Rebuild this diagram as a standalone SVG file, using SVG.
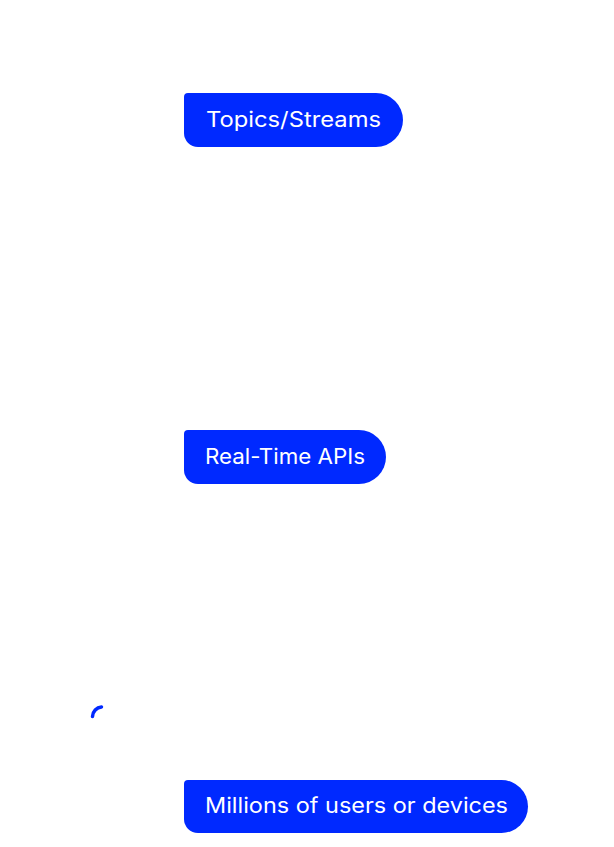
<svg xmlns="http://www.w3.org/2000/svg" width="614" height="847" viewBox="0 0 614 847">
<style>
.box{fill:#0029FF}
.lbl{fill:#ffffff;font-family:Inter,"Liberation Sans",sans-serif;font-size:21px}
.conn{fill:none;stroke:#0029FF;stroke-width:3.5;stroke-linecap:round}
</style>
<rect width="614" height="847" fill="#ffffff"/>
<g id="connectors">
<path class="conn" d="M92.5,716.5 A10,10 0 0 1 101.5,707"/>
</g>
<g id="topics">
<path class="box" d="M188,93 H376 A27,27 0 0 1 403,120 A27,27 0 0 1 376,147 H198 A14,14 0 0 1 184,133 V97 A4,4 0 0 1 188,93 Z"/>
<text class="lbl" x="206" y="127" textLength="175" lengthAdjust="spacingAndGlyphs">Topics/Streams</text>
</g>
<g id="apis">
<path class="box" d="M188,430 H359 A27,27 0 0 1 386,457 A27,27 0 0 1 359,484 H198 A14,14 0 0 1 184,470 V434 A4,4 0 0 1 188,430 Z"/>
<text class="lbl" x="205" y="464" textLength="160" lengthAdjust="spacingAndGlyphs">Real-Time APIs</text>
</g>
<g id="users">
<path class="box" d="M188,780 H501.5 A26.5,26.5 0 0 1 528,806.5 A26.5,26.5 0 0 1 501.5,833 H198 A14,14 0 0 1 184,819 V784 A4,4 0 0 1 188,780 Z"/>
<text class="lbl" x="205" y="813" textLength="303" lengthAdjust="spacingAndGlyphs">Millions of users or devices</text>
</g>
</svg>
